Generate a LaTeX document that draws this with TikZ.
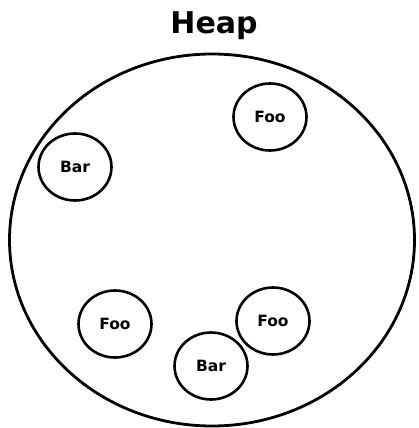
\documentclass[tikz,border=0pt]{standalone}
\usepackage{fontspec}
\setmainfont{DejaVu Sans}
\usetikzlibrary{shapes.geometric}
\begin{document}
\begin{tikzpicture}[x=1pt,y=-1pt,
  heap/.style={draw,line width=2.8pt,ellipse,minimum width=405pt,minimum height=372pt,inner sep=0pt},
  obj/.style={draw,line width=2.6pt,ellipse,minimum width=73pt,minimum height=67pt,inner sep=0pt,font=\fontsize{15.5}{15.5}\bfseries},
  title/.style={font=\fontsize{30}{30}\bfseries}]
\useasboundingbox (0,0) rectangle (419,428);
\node[title] (t) at (214,26) {Heap};
\node[heap] (h) at (212,240) {};
\node[obj] (f1) at (270,117) {Foo};
\node[obj] (b1) at (75,167) {Bar};
\node[obj] (f2) at (115,324) {Foo};
\node[obj] (f3) at (273,321) {Foo};
\node[obj] (b2) at (211,366) {Bar};
\end{tikzpicture}
\end{document}
